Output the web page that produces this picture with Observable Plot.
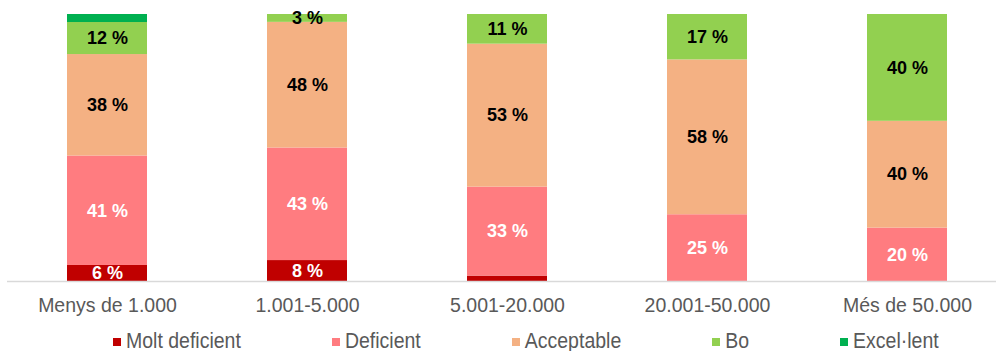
<!DOCTYPE html>
<html>
<head>
<meta charset="utf-8">
<script src="https://cdn.jsdelivr.net/npm/d3@7"></script>
<script src="https://cdn.jsdelivr.net/npm/@observablehq/plot@0.6"></script>
<style>
  html, body { margin: 0; padding: 0; background: #fff; overflow: hidden; }
  #chart { width: 996px; }
  .legend { height: 31px; box-sizing: border-box; padding-top: 12px; padding-left: 113px; white-space: nowrap;
    font-family: "Liberation Sans", Arial, sans-serif; font-size: 19.5px; line-height: 19px; color: #595959; }
  .legend .item { display: inline-block; margin-right: 91px; }
  .legend .sw { width: 8px; height: 8px; display: inline-block; vertical-align: baseline; margin-bottom: 2px; margin-right: 5px; }
  .legend .txt { display: inline-block; transform: scaleY(1.15); transform-origin: 50% 84%; }
</style>
</head>
<body>
<div id="chart"></div>
<script>
const categories = ["Menys de 1.000", "1.001-5.000", "5.001-20.000", "20.001-50.000", "Més de 50.000"];
const series = ["Molt deficient", "Deficient", "Acceptable", "Bo", "Excel·lent"];
const moltDeficient = [6, 8, 2, 0, 0];
const deficient = [41, 43, 33, 25, 20];
const acceptable = [38, 48, 53, 58, 40];
const bo = [12, 3, 11, 17, 40];
const excellent = [3, 0, 0, 0, 0];
const colors = ["#C00000", "#FF7C80", "#F4B183", "#92D050", "#00B050"];
const whiteLabelSeries = ["Molt deficient", "Deficient"];
const labelledSeries = ["Molt deficient", "Deficient", "Acceptable", "Bo"];

const valuesBySeries = [moltDeficient, deficient, acceptable, bo, excellent];
const data = [];
series.forEach((s, si) => {
  categories.forEach((c, ci) => {
    data.push({cat: c, series: s, value: valuesBySeries[si][ci]});
  });
});

const showLabel = d => labelledSeries.includes(d.series) && d.value >= 3;
const font = '"Liberation Sans", Arial, sans-serif';

const chart = Plot.plot({
  width: 996,
  height: 320,
  marginTop: 14,
  marginBottom: 39,
  marginLeft: 7,
  marginRight: 0,
  style: {fontFamily: font, background: "#fff"},
  x: {domain: categories, range: [7, 1007], paddingInner: 0.6, paddingOuter: 0.3, label: null},
  y: {domain: [0, 1], axis: null},
  color: {domain: series, range: colors},
  marks: [
    Plot.barY(data, Plot.stackY({x: "cat", y: "value", z: "series", fill: "series", offset: "normalize"})),
    Plot.ruleY([0], {stroke: "#D9D9D9", strokeWidth: 1.5}),
    Plot.text(data, Plot.stackY({x: "cat", y: "value", z: "series", offset: "normalize",
      text: d => showLabel(d) && whiteLabelSeries.includes(d.series) ? `${d.value} %` : "",
      fill: "white", fontWeight: "bold", fontSize: 18})),
    Plot.text(data, Plot.stackY({x: "cat", y: "value", z: "series", offset: "normalize",
      text: d => showLabel(d) && !whiteLabelSeries.includes(d.series) ? `${d.value} %` : "",
      fill: "black", fontWeight: "bold", fontSize: 18})),
    Plot.axisX({tickSize: 0, tickPadding: 17, fontSize: 19.5, color: "#595959", label: null})
  ]
});
document.getElementById("chart").appendChild(chart);

const legend = document.createElement("div");
legend.className = "legend";
series.forEach((s, i) => {
  const item = document.createElement("span");
  item.className = "item";
  const sw = document.createElement("span");
  sw.className = "sw";
  sw.style.background = colors[i];
  const t = document.createElement("span");
  t.className = "txt";
  t.textContent = s;
  item.appendChild(sw);
  item.appendChild(t);
  legend.appendChild(item);
});
document.getElementById("chart").appendChild(legend);
</script>
</body>
</html>
